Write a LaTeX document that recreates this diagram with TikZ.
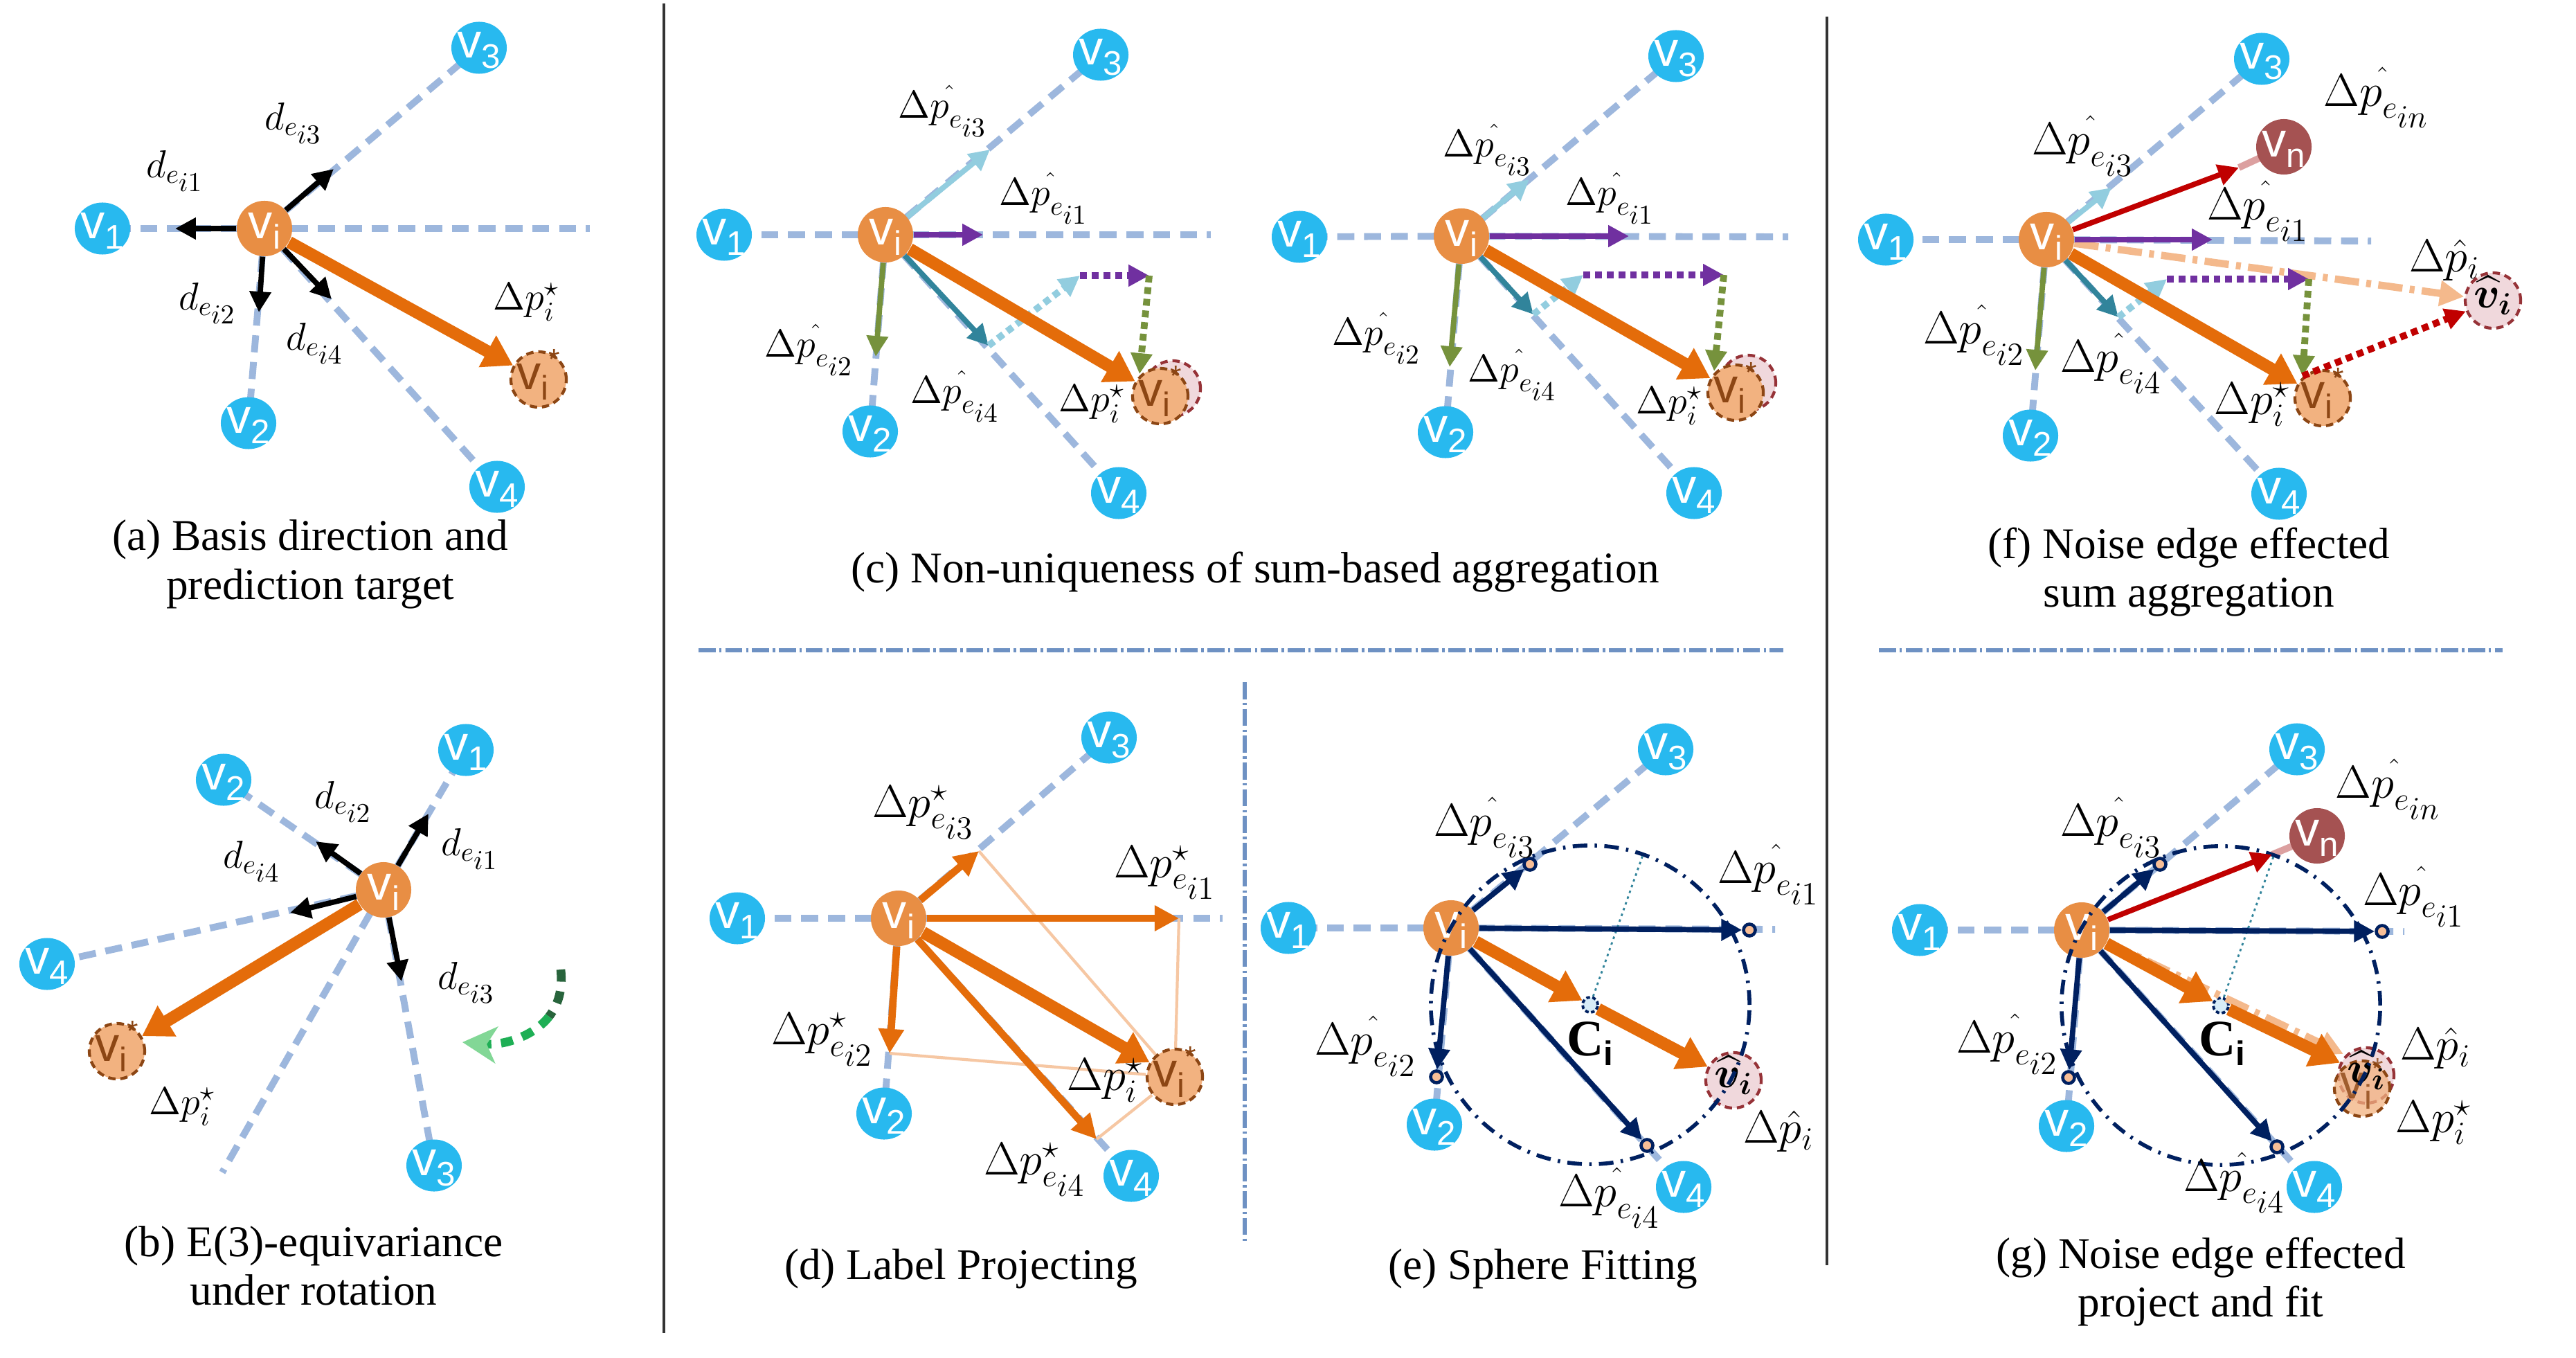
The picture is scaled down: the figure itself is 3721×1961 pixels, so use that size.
\documentclass[tikz,border=0pt]{standalone}
\usepackage{fix-cm}
\usepackage{amsmath,bm}
\usepackage[no-math]{fontspec}
\setmainfont{Liberation Serif}
\newfontfamily\nodefont{Liberation Sans}
\usetikzlibrary{arrows.meta,shapes.geometric}
\pgfdeclarelayer{bg}
\pgfsetlayers{bg,main}
\definecolor{eblue}{RGB}{157,183,221}
\definecolor{nblue}{RGB}{40,185,239}
\definecolor{norange}{RGB}{232,142,68}
\definecolor{nstar}{RGB}{242,178,128}
\definecolor{nstarb}{RGB}{140,70,20}
\definecolor{nhat}{RGB}{240,216,220}
\definecolor{nhatb}{RGB}{150,50,55}
\definecolor{nnoise}{RGB}{165,82,82}
\definecolor{aorange}{RGB}{228,108,10}
\definecolor{alblue}{RGB}{146,205,223}
\definecolor{apurple}{RGB}{112,48,160}
\definecolor{agreen}{RGB}{118,146,60}
\definecolor{ateal}{RGB}{49,132,155}
\definecolor{ared}{RGB}{192,0,0}
\definecolor{anavy}{RGB}{0,32,96}
\definecolor{apeach}{RGB}{244,185,140}
\definecolor{apink}{RGB}{220,160,160}
\definecolor{sepblue}{RGB}{110,145,195}
\definecolor{ptfill}{RGB}{248,190,150}
\definecolor{cfill}{RGB}{215,236,248}
\newcommand\vtxt[2][white]{\makebox[0pt]{\smash{\raisebox{-4pt}{\color{#1}\nodefont\fontsize{20}{20}\selectfont v\raisebox{-4.5pt}{\fontsize{14}{14}\selectfont #2}}}}}
\newcommand\vstartxt{\makebox[0pt]{\smash{\raisebox{-4pt}{\color{nstarb}\nodefont\fontsize{20}{20}\selectfont v\raisebox{-4.5pt}{\fontsize{14}{14}\selectfont i}\raisebox{8pt}{\fontsize{12}{12}\selectfont *}}}}}
\newcommand\vhattxt{\makebox[0pt]{\smash{\raisebox{-3pt}{\fontsize{18}{18}\selectfont$\boldsymbol{\widehat{v}_i}$}}}}
\newcommand\myDph[1]{$\Delta p^{\hat{}}_{e_{\scriptstyle #1}}$}
\newcommand\myDps[1]{$\Delta p^{\star}_{e_{\scriptstyle #1}}$}
\newcommand\myDd[1]{$d_{e_{\scriptstyle #1}}$}
\newcommand\myDpi{$\Delta p^{\star}_{i}$}
\newcommand\myDhat{$\Delta\hat{p}_{i}$}
\newcommand\myCi{\fontsize{21}{21}\selectfont\textbf{C}\raisebox{-4pt}{\fontsize{14}{14}\selectfont\nodefont\bfseries i}}
\begin{document}
\begin{tikzpicture}[x=0.01cm,y=-0.01cm,
  bluev/.style={ellipse,fill=nblue,minimum width=0.8cm,minimum height=0.75cm,inner sep=0},
  orv/.style={circle,fill=norange,minimum size=0.8cm,inner sep=0},
  starv/.style={circle,fill=nstar,draw=nstarb,dash pattern=on 3pt off 2pt,line width=1.2pt,minimum size=0.8cm,inner sep=0},
  hatv/.style={circle,fill=nhat,draw=nhatb,dash pattern=on 3pt off 2pt,line width=1.2pt,minimum size=0.8cm,inner sep=0},
  noisev/.style={circle,fill=nnoise,minimum size=0.8cm,inner sep=0},
  ptv/.style={circle,fill=ptfill,draw=anavy,line width=1.3pt,minimum size=0.17cm,inner sep=0},
  cv/.style={circle,fill=cfill,draw=anavy,dash pattern=on 1.5pt off 1pt,line width=1.1pt,minimum size=0.22cm,inner sep=0},
  lab/.style={inner sep=0,font=\fontsize{16}{18}\selectfont},
  labL/.style={inner sep=0,font=\fontsize{19}{21}\selectfont},
  capt/.style={inner sep=0,align=center,font=\fontsize{18}{20}\selectfont},
  eline/.style={draw=eblue,line width=2.8pt,dash pattern=on 7pt off 4pt},
  arr/.style={line width=2.2pt,-{Triangle[length=8.5pt,width=8.5pt]}},
  marr/.style={draw=aorange,line width=3pt,-{Triangle[length=10pt,width=10pt]}},
  thk/.style={draw=aorange,line width=5pt,-{Triangle[length=12pt,width=14pt]}},
  dotarr/.style={line width=2.8pt,dash pattern=on 2.8pt off 2pt,-{Triangle[length=8.5pt,width=8.5pt]}},
  peacharr/.style={draw=apeach,line width=3pt,dash pattern=on 10pt off 3pt on 2pt off 3pt,-{Triangle[length=10pt,width=10pt]}},
  thinl/.style={draw=apeach!80,line width=1.2pt},
  sphere/.style={draw=anavy,line width=1.6pt,dash pattern=on 6pt off 3pt on 1pt off 3pt},
  sepv/.style={draw=sepblue,line width=1.5pt,dash pattern=on 7pt off 1.5pt on 1pt off 1.5pt}
]
\begin{pgfonlayer}{bg}
\fill[white] (0,0) rectangle (3721,1961);
\end{pgfonlayer}
\useasboundingbox (0,0) rectangle (3721,1961);

% separators
\draw[black!80,line width=0.9pt] (959,5) -- (959,1925);
\draw[black!80,line width=0.9pt] (2639,24) -- (2639,1827);
\draw[sepv] (1009,939) -- (2576,939);
\draw[sepv] (2714,939) -- (3615,939);
\draw[sepv] (1798,985) -- (1798,1795);

%================ (a)
\node[bluev] (a-v1) at (148,330) {\vtxt{1}};
\node[bluev] (a-v2) at (359,611) {\vtxt{2}};
\node[bluev] (a-v3) at (692,69) {\vtxt{3}};
\node[bluev] (a-v4) at (718,703) {\vtxt{4}};
\node[orv] (a-vi) at (382,330) {\vtxt{i}};
\node[starv] (a-vs) at (778,548) {\vstartxt};
\coordinate (a-r) at (852,330);
\coordinate (a-t1) at (253,330);
\coordinate (a-t3) at (482,244);
\coordinate (a-t2) at (374,451);
\coordinate (a-t4) at (479,432);
\begin{pgfonlayer}{bg}
\draw[eline] (a-vi.center) -- (a-v1.center);
\draw[eline] (a-vi.center) -- (a-r);
\draw[eline] (a-vi.center) -- (a-v2.center);
\draw[eline] (a-vi.center) -- (a-v3.center);
\draw[eline] (a-vi.center) -- (a-v4.center);
\end{pgfonlayer}
\draw[arr] (a-vi) -- (a-t1);
\draw[arr] (a-vi) -- (a-t3);
\draw[arr] (a-vi) -- (a-t2);
\draw[arr] (a-vi) -- (a-t4);
\draw[thk] (a-vi) -- (a-vs);
\node[lab] (a-l3) at (424,178) {\myDd{i3}};
\node[lab] (a-l1) at (253,247) {\myDd{i1}};
\node[lab] (a-l2) at (300,438) {\myDd{i2}};
\node[lab] (a-l4) at (455,496) {\myDd{i4}};
\node[lab] (a-lp) at (760,436) {\myDpi};
\node[capt] (a-cap) at (448,815) {(a) Basis direction and\\prediction target};

%================ (b)
\node[bluev] (b-v1) at (673,1083) {\vtxt{1}};
\node[bluev] (b-v2) at (323,1126) {\vtxt{2}};
\node[bluev] (b-v4) at (68,1392) {\vtxt{4}};
\node[bluev] (b-v3) at (627,1683) {\vtxt{3}};
\node[orv] (b-vi) at (554,1285) {\vtxt{i}};
\node[starv] (b-vs) at (169,1518) {\vstartxt};
\coordinate (b-t1) at (619,1175);
\coordinate (b-t2) at (456,1215);
\coordinate (b-t4) at (419,1318);
\coordinate (b-t3) at (580,1417);
\coordinate (b-l) at (321,1693);
\begin{pgfonlayer}{bg}
\draw[eline] (b-vi.center) -- (b-v1.center);
\draw[eline] (b-vi.center) -- (b-v2.center);
\draw[eline] (b-vi.center) -- (b-v3.center);
\draw[eline] (b-vi.center) -- (b-v4.center);
\draw[eline] (b-vi.center) -- (b-l);
\end{pgfonlayer}
\draw[arr] (b-vi) -- (b-t1);
\draw[arr] (b-vi) -- (b-t2);
\draw[arr] (b-vi) -- (b-t4);
\draw[arr] (b-vi) -- (b-t3);
\draw[thk] (b-vi) -- (b-vs);
\node[lab] (b-l2) at (496,1158) {\myDd{i2}};
\node[lab] (b-l1) at (679,1226) {\myDd{i1}};
\node[lab] (b-l4) at (364,1244) {\myDd{i4}};
\node[lab] (b-l3) at (674,1419) {\myDd{i3}};
\node[lab] (b-lp) at (263,1598) {\myDpi};
\coordinate (b-g0) at (810,1400);
\coordinate (b-g1) at (793,1468);
\coordinate (b-g2) at (668,1505);
\draw[draw={rgb,255:red,40;green,100;blue,60},line width=3.6pt,dash pattern=on 5pt off 4pt] (b-g0) .. controls (813,1428) and (807,1450) .. (b-g1);
\draw[draw={rgb,255:red,30;green,175;blue,85},line width=3.6pt,dash pattern=on 5pt off 4pt,-{Stealth[length=14pt,width=15pt,inset=4pt,color={rgb,255:red,130;green,215;blue,150}]}] (b-g1) .. controls (772,1495) and (730,1510) .. (b-g2);
\node[capt] (b-cap) at (453,1828) {(b) E(3)-equivariance\\under rotation};

%================ (c) left
\node[bluev] (c-v1) at (1046,339) {\vtxt{1}};
\node[bluev] (c-v2) at (1257,623) {\vtxt{2}};
\node[bluev] (c-v3) at (1590,79) {\vtxt{3}};
\node[bluev] (c-v4) at (1616,712) {\vtxt{4}};
\node[orv] (c-vi) at (1279,339) {\vtxt{i}};
\node[hatv] (c-vp) at (1694,561) {};
\node[starv] (c-vs) at (1676,572) {\vstartxt};
\coordinate (c-r) at (1749,339);
\coordinate (c-t3) at (1430,216);
\coordinate (c-t1) at (1420,339);
\coordinate (c-t2) at (1265,515);
\coordinate (c-t4) at (1428,499);
\coordinate (c-d1) at (1560,398);
\coordinate (c-d2) at (1660,398);
\coordinate (c-e) at (1646,540);
\begin{pgfonlayer}{bg}
\draw[eline] (c-vi.center) -- (c-v1.center);
\draw[eline] (c-vi.center) -- (c-r);
\draw[eline] (c-vi.center) -- (c-v2.center);
\draw[eline] (c-vi.center) -- (c-v3.center);
\draw[eline] (c-vi.center) -- (c-v4.center);
\end{pgfonlayer}
\draw[arr,alblue] (c-vi) -- (c-t3);
\draw[arr,apurple] (c-vi) -- (c-t1);
\draw[arr,agreen] (c-vi) -- (c-t2);
\draw[arr,ateal] (c-vi) -- (c-t4);
\draw[dotarr,alblue] (c-t4) -- (c-d1);
\draw[dotarr,apurple] (c-d1) -- (c-d2);
\draw[dotarr,agreen] (c-d2) -- (c-e);
\draw[thk] (c-vi) -- (c-vs);
\node[lab] (c-l3) at (1362,160) {\myDph{i3}};
\node[lab] (c-l1) at (1508,286) {\myDph{i1}};
\node[lab] (c-l2) at (1169,505) {\myDph{i2}};
\node[lab] (c-l4) at (1380,572) {\myDph{i4}};
\node[lab] (c-lp) at (1577,583) {\myDpi};

%================ (c) right
\node[bluev] (cc-v1) at (1877,342) {\vtxt{1}};
\node[bluev] (cc-v2) at (2088,624) {\vtxt{2}};
\node[bluev] (cc-v3) at (2421,81) {\vtxt{3}};
\node[bluev] (cc-v4) at (2447,712) {\vtxt{4}};
\node[orv] (cc-vi) at (2111,341) {\vtxt{i}};
\node[hatv] (cc-vp) at (2525,553) {};
\node[starv] (cc-vs) at (2507,567) {\vstartxt};
\coordinate (cc-r) at (2583,342);
\coordinate (cc-t3) at (2209,259);
\coordinate (cc-t1) at (2353,341);
\coordinate (cc-t2) at (2094,530);
\coordinate (cc-t4) at (2215,454);
\coordinate (cc-d1) at (2287,397);
\coordinate (cc-d2) at (2490,397);
\coordinate (cc-e) at (2476,536);
\begin{pgfonlayer}{bg}
\draw[eline] (cc-vi.center) -- (cc-v1.center);
\draw[eline] (cc-vi.center) -- (cc-r);
\draw[eline] (cc-vi.center) -- (cc-v2.center);
\draw[eline] (cc-vi.center) -- (cc-v3.center);
\draw[eline] (cc-vi.center) -- (cc-v4.center);
\end{pgfonlayer}
\draw[arr,alblue] (cc-vi) -- (cc-t3);
\draw[arr,apurple] (cc-vi) -- (cc-t1);
\draw[arr,agreen] (cc-vi) -- (cc-t2);
\draw[arr,ateal] (cc-vi) -- (cc-t4);
\draw[dotarr,alblue] (cc-t4) -- (cc-d1);
\draw[dotarr,apurple] (cc-d1) -- (cc-d2);
\draw[dotarr,agreen] (cc-d2) -- (cc-e);
\draw[thk] (cc-vi) -- (cc-vs);
\node[lab] (cc-l3) at (2149,216) {\myDph{i3}};
\node[lab] (cc-l1) at (2326,286) {\myDph{i1}};
\node[lab] (cc-l2) at (1989,488) {\myDph{i2}};
\node[lab] (cc-l4) at (2185,541) {\myDph{i4}};
\node[lab] (cc-lp) at (2411,586) {\myDpi};
\node[capt] (c-cap) at (1813,826) {(c) Non-uniqueness of sum-based aggregation};

%================ (f)
\node[bluev] (f-v1) at (2724,346) {\vtxt{1}};
\node[bluev] (f-v2) at (2933,629) {\vtxt{2}};
\node[bluev] (f-v3) at (3267,85) {\vtxt{3}};
\node[bluev] (f-v4) at (3292,713) {\vtxt{4}};
\node[noisev] (f-vn) at (3299,212) {\vtxt{n}};
\node[orv] (f-vi) at (2956,346) {\vtxt{i}};
\node[starv] (f-vs) at (3355,575) {\vstartxt};
\node[hatv] (f-vh) at (3601,434) {\vhattxt};
\coordinate (f-r) at (3425,348);
\coordinate (f-t3) at (3050,271);
\coordinate (f-tn) at (3234,242);
\coordinate (f-t1) at (3196,346);
\coordinate (f-t2) at (2940,535);
\coordinate (f-t4) at (3060,458);
\coordinate (f-d1) at (3130,403);
\coordinate (f-d2) at (3335,403);
\coordinate (f-e) at (3326,543);
\begin{pgfonlayer}{bg}
\draw[eline] (f-vi.center) -- (f-v1.center);
\draw[eline] (f-vi.center) -- (f-r);
\draw[eline] (f-vi.center) -- (f-v2.center);
\draw[eline] (f-vi.center) -- (f-v3.center);
\draw[eline] (f-vi.center) -- (f-v4.center);
\draw[draw=apink,line width=2.8pt] (f-tn) -- (f-vn.center);
\end{pgfonlayer}
\draw[peacharr] (f-vi) -- (f-vh);
\draw[arr,alblue] (f-vi) -- (f-t3);
\draw[arr,ared] (f-vi) -- (f-tn);
\draw[arr,apurple] (f-vi) -- (f-t1);
\draw[arr,agreen] (f-vi) -- (f-t2);
\draw[arr,ateal] (f-vi) -- (f-t4);
\draw[dotarr,alblue] (f-t4) -- (f-d1);
\draw[dotarr,apurple] (f-d1) -- (f-d2);
\draw[dotarr,agreen] (f-d2) -- (f-e);
\draw[thk] (f-vi) -- (f-vs);
\draw[dotarr,ared] (f-e) -- (f-vh);
\node[labL] (f-ln) at (3433,141) {\myDph{in}};
\node[labL] (f-l3) at (3009,211) {\myDph{i3}};
\node[labL] (f-l1) at (3262,305) {\myDph{i1}};
\node[labL] (f-lh) at (3531,376) {\myDhat};
\node[labL] (f-l2) at (2852,484) {\myDph{i2}};
\node[labL] (f-l4) at (3050,525) {\myDph{i4}};
\node[labL] (f-lp) at (3253,584) {\myDpi};
\node[capt] (f-cap) at (3162,826) {(f) Noise edge effected\\sum aggregation};

%================ (d)
\node[bluev] (d-v1) at (1065,1326) {\vtxt{1}};
\node[bluev] (d-v2) at (1277,1608) {\vtxt{2}};
\node[bluev] (d-v3) at (1602,1065) {\vtxt{3}};
\node[bluev] (d-v4) at (1634,1698) {\vtxt{4}};
\node[orv] (d-vi) at (1298,1326) {\vtxt{i}};
\node[starv] (d-vs) at (1697,1555) {\vstartxt};
\coordinate (d-r) at (1766,1326);
\coordinate (d-t3) at (1414,1229);
\coordinate (d-t1) at (1703,1326);
\coordinate (d-t2) at (1285,1521);
\coordinate (d-t4) at (1584,1645);
\begin{pgfonlayer}{bg}
\draw[eline] (d-vi.center) -- (d-v1.center);
\draw[eline] (d-vi.center) -- (d-r);
\draw[eline] (d-vi.center) -- (d-v2.center);
\draw[eline] (d-vi.center) -- (d-v3.center);
\draw[eline] (d-vi.center) -- (d-v4.center);
\draw[thinl] (d-t3) -- (d-vs);
\draw[thinl] (d-t1) -- (d-vs);
\draw[thinl] (d-t2) -- (d-vs);
\draw[thinl] (d-t4) -- (d-vs);
\end{pgfonlayer}
\draw[marr] (d-vi) -- (d-t3);
\draw[marr] (d-vi) -- (d-t1);
\draw[marr] (d-vi) -- (d-t2);
\draw[marr] (d-vi) -- (d-t4);
\draw[thk] (d-vi) -- (d-vs);
\node[labL] (d-l3) at (1334,1173) {\myDps{i3}};
\node[labL] (d-l1) at (1683,1260) {\myDps{i1}};
\node[labL] (d-l2) at (1188,1501) {\myDps{i2}};
\node[labL] (d-lp) at (1596,1560) {\myDpi};
\node[labL] (d-l4) at (1495,1689) {\myDps{i4}};
\node[capt] (d-cap) at (1388,1832) {(d) Label Projecting};

%================ (e)
\node[bluev] (e-v1) at (1861,1340) {\vtxt{1}};
\node[bluev] (e-v2) at (2072,1624) {\vtxt{2}};
\node[bluev] (e-v3) at (2406,1082) {\vtxt{3}};
\node[bluev] (e-v4) at (2432,1714) {\vtxt{4}};
\node[orv] (e-vi) at (2096,1340) {\vtxt{i}};
\coordinate (e-o) at (2297,1451);
\node[hatv] (e-vh) at (2504,1560) {\vhattxt};
\coordinate (e-r) at (2564,1342);
\coordinate (e-top) at (2374,1232);
\begin{pgfonlayer}{bg}
\draw[eline] (e-vi.center) -- (e-v1.center);
\draw[eline] (e-vi.center) -- (e-r);
\draw[eline] (e-vi.center) -- (e-v2.center);
\draw[eline] (e-vi.center) -- (e-v3.center);
\draw[eline] (e-vi.center) -- (e-v4.center);
\end{pgfonlayer}
\draw[sphere] (e-o) circle[radius=2.3cm];
\node[cv] (e-c) at (2297,1451) {};
\node[ptv] (e-p3) at (2210,1248) {};
\node[ptv] (e-p1) at (2527,1343) {};
\node[ptv] (e-p2) at (2075,1555) {};
\node[ptv] (e-p4) at (2379,1654) {};
\draw[draw=ateal,line width=0.8pt,dash pattern=on 1pt off 1.5pt] (e-c) -- (e-top);
\draw[arr,anavy] (e-vi) -- (e-p3);
\draw[arr,anavy] (e-vi) -- (e-p1);
\draw[arr,anavy] (e-vi) -- (e-p2);
\draw[arr,anavy] (e-vi) -- (e-p4);
\draw[thk] (e-vi) -- (e-c);
\draw[thk] (e-c) -- (e-vh);
\node[labL] (e-l3) at (2145,1195) {\myDph{i3}};
\node[labL] (e-l1) at (2555,1263) {\myDph{i1}};
\node[labL] (e-l2) at (1973,1511) {\myDph{i2}};
\node[labL] (e-lh) at (2569,1634) {\myDhat};
\node[labL] (e-l4) at (2325,1730) {\myDph{i4}};
\node[inner sep=0] (e-lc) at (2297,1507) {\myCi};
\node[capt] (e-cap) at (2229,1832) {(e) Sphere Fitting};

%================ (g)
\node[bluev] (g-v1) at (2773,1343) {\vtxt{1}};
\node[bluev] (g-v2) at (2985,1626) {\vtxt{2}};
\node[bluev] (g-v3) at (3318,1082) {\vtxt{3}};
\node[bluev] (g-v4) at (3343,1714) {\vtxt{4}};
\node[noisev] (g-vn) at (3347,1207) {\vtxt{n}};
\node[orv] (g-vi) at (3007,1343) {\vtxt{i}};
\coordinate (g-o) at (3208,1452);
\node[hatv] (g-vh) at (3418,1553) {};
\node[starv,fill opacity=0.75,text opacity=0.8] (g-vs) at (3412,1572) {\vstartxt};
\node[inner sep=0] (g-vht) at (3418,1553) {\vhattxt};
\coordinate (g-r) at (3473,1345);
\coordinate (g-tn) at (3282,1234);
\coordinate (g-top) at (3285,1234);
\coordinate (g-q) at (3385,1522);
\begin{pgfonlayer}{bg}
\draw[eline] (g-vi.center) -- (g-v1.center);
\draw[eline] (g-vi.center) -- (g-r);
\draw[eline] (g-vi.center) -- (g-v2.center);
\draw[eline] (g-vi.center) -- (g-v3.center);
\draw[eline] (g-vi.center) -- (g-v4.center);
\draw[draw=apink,line width=2.8pt] (g-tn) -- (g-vn.center);
\end{pgfonlayer}
\draw[sphere] (g-o) circle[radius=2.3cm];
\node[cv] (g-c) at (3208,1452) {};
\node[ptv] (g-p3) at (3120,1248) {};
\node[ptv] (g-p1) at (3441,1345) {};
\node[ptv] (g-p2) at (2988,1556) {};
\node[ptv] (g-p4) at (3289,1656) {};
\draw[draw=ateal,line width=0.8pt,dash pattern=on 1pt off 1.5pt] (g-c) -- (g-top);
\draw[peacharr] (g-vi) -- (g-q);
\draw[arr,anavy] (g-vi) -- (g-p3);
\draw[arr,ared] (g-vi) -- (g-tn);
\draw[arr,anavy] (g-vi) -- (g-p1);
\draw[arr,anavy] (g-vi) -- (g-p2);
\draw[arr,anavy] (g-vi) -- (g-p4);
\draw[thk] (g-vi) -- (g-c);
\draw[thk] (g-c) -- (g-vh);
\node[labL] (g-ln) at (3450,1140) {\myDph{in}};
\node[labL] (g-l3) at (3050,1195) {\myDph{i3}};
\node[labL] (g-l1) at (3487,1295) {\myDph{i1}};
\node[labL] (g-l2) at (2900,1508) {\myDph{i2}};
\node[labL] (g-lh) at (3518,1514) {\myDhat};
\node[labL] (g-lp) at (3515,1621) {\myDpi};
\node[labL] (g-l4) at (3228,1708) {\myDph{i4}};
\node[inner sep=0] (g-lc) at (3210,1507) {\myCi};
\node[capt] (g-cap) at (3179,1851) {(g) Noise edge effected\\project and fit};
\end{tikzpicture}
\end{document}
